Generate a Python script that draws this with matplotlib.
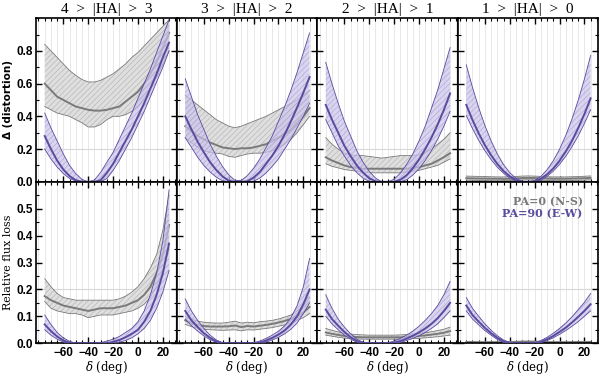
import matplotlib
matplotlib.use("Agg")
import matplotlib.pyplot as plt
import numpy as np

# declination grid (deg)
dec = [-75, -70, -65, -60, -55, -50, -45, -40, -35, -30, -25, -20, -15, -10, -5, 0, 5, 10, 15, 20, 25]

titles = ["4  >  |HA|  >  3", "3  >  |HA|  >  2", "2  >  |HA|  >  1", "1  >  |HA|  >  0"]

# ---- distortion, PA=0 (grey) ----
g1_hi = [.84, .80, .76, .72, .68, .65, .625, .61, .61, .62, .64, .66, .69, .72, .76, .79, .83, .87, .91, .95, .99]
g1_md = [.60, .56, .52, .50, .48, .46, .45, .44, .435, .435, .44, .45, .46, .49, .52, .55, .60, .66, .73, .82, .91]
g1_lo = [.46, .44, .42, .41, .40, .38, .36, .335, .335, .35, .38, .40, .40, .41, .43, .46, .51, .57, .64, .72, .80]
g2_hi = [.53, .50, .47, .44, .41, .38, .36, .34, .33, .34, .355, .37, .385, .40, .42, .44, .46, .48, .50, .53, .56]
g2_md = [.34, .31, .28, .26, .24, .225, .21, .205, .20, .205, .205, .21, .22, .23, .25, .27, .29, .32, .36, .40, .45]
g2_lo = [.27, .24, .21, .19, .18, .175, .17, .155, .15, .16, .17, .175, .175, .18, .19, .21, .23, .26, .30, .35, .40]
g3_hi = [.27, .23, .20, .175, .165, .16, .16, .155, .15, .145, .15, .155, .16, .16, .16, .165, .18, .20, .23, .26, .30]
g3_md = [.15, .13, .115, .10, .09, .085, .08, .08, .08, .08, .08, .08, .08, .08, .085, .09, .10, .11, .13, .15, .175]
g3_lo = [.11, .095, .085, .075, .07, .065, .06, .055, .055, .055, .055, .055, .055, .06, .065, .07, .08, .09, .10, .12, .14]
g4_hi = [.035, .034, .033, .032, .031, .03, .03, .031, .033, .035, .036, .035, .033, .031, .03, .03, .03, .031, .032, .034, .036]
g4_md = [.022, .021, .02, .02, .019, .019, .018, .019, .021, .023, .024, .023, .021, .02, .019, .019, .019, .02, .021, .022, .024]
g4_lo = [.01, .009, .008, .008, .007, .007, .007, .008, .009, .011, .012, .011, .009, .008, .007, .007, .007, .008, .009, .01, .012]

# ---- distortion, PA=90 (purple) ----
p1_hi = [.42, .33, .25, .17, .10, .05, .015, 0, .011, .058, .12, .18, .26, .34, .42, .51, .60, .69, .79, .89, .99]
p1_md = [.28, .20, .13, .075, .035, .01, 0, 0, 0, .01, .055, .11, .18, .25, .32, .40, .48, .57, .66, .76, .85]
p1_lo = [.20, .14, .09, .05, .02, .005, 0, 0, 0, 0, .02, .07, .13, .20, .27, .35, .43, .52, .61, .70, .80]
p2_hi = [.63, .52, .41, .32, .23, .157, .093, .043, .009, .008, .038, .083, .14, .21, .28, .37, .46, .56, .67, .79, .91]
p2_md = [.40, .32, .245, .18, .12, .072, .033, .007, 0, 0, .003, .026, .06, .11, .16, .22, .29, .37, .455, .545, .64]
p2_lo = [.27, .21, .15, .10, .06, .028, .006, 0, 0, 0, 0, .003, .023, .054, .095, .14, .20, .26, .33, .40, .48]
p3_hi = [.73, .60, .48, .37, .28, .19, .12, .064, .023, 0, 0, .016, .053, .106, .17, .25, .34, .45, .56, .69, .82]
p3_md = [.47, .38, .30, .22, .157, .10, .056, .022, .003, 0, 0, 0, .013, .04, .083, .136, .20, .27, .35, .44, .54]
p3_lo = [.38, .30, .22, .157, .10, .056, .022, .003, 0, 0, 0, 0, 0, .012, .041, .08, .13, .19, .26, .34, .43]
p4_hi = [.715, .577, .453, .344, .25, .17, .105, .056, .021, .002, 0, .008, .033, .074, .129, .199, .283, .383, .498, .628, .772]
p4_md = [.47, .378, .296, .224, .162, .109, .066, .034, .011, 0, 0, .002, .019, .046, .082, .129, .185, .25, .328, .414, .51]
p4_lo = [.405, .325, .253, .19, .135, .089, .052, .023, .003, 0, 0, 0, .01, .033, .065, .106, .156, .214, .28, .356, .44]

# ---- relative flux loss, PA=0 (grey) ----
f1_hi = [.24, .21, .185, .17, .165, .16, .16, .16, .16, .16, .16, .16, .165, .175, .19, .21, .24, .28, .33, .42, .55]
f1_md = [.175, .16, .15, .14, .135, .13, .125, .12, .125, .13, .13, .13, .135, .14, .15, .16, .18, .21, .26, .33, .44]
f1_lo = [.155, .13, .12, .115, .11, .11, .105, .095, .10, .105, .105, .105, .11, .115, .12, .13, .145, .17, .21, .27, .35]
f2_hi = [.10, .09, .082, .078, .076, .075, .075, .078, .082, .075, .078, .076, .08, .082, .085, .09, .097, .105, .12, .14, .17]
f2_md = [.085, .075, .068, .064, .062, .062, .062, .063, .066, .06, .064, .062, .065, .068, .072, .077, .083, .09, .10, .115, .135]
f2_lo = [.07, .062, .056, .052, .05, .049, .048, .049, .05, .046, .05, .049, .052, .055, .058, .063, .068, .075, .085, .095, .11]
f3_hi = [.055, .048, .042, .037, .034, .032, .031, .03, .03, .03, .03, .03, .031, .032, .034, .036, .039, .043, .047, .052, .06]
f3_md = [.04, .035, .031, .027, .025, .023, .022, .022, .022, .022, .022, .022, .022, .023, .025, .027, .029, .032, .035, .039, .045]
f3_lo = [.03, .026, .022, .019, .017, .016, .015, .015, .015, .015, .015, .015, .015, .016, .017, .018, .02, .022, .024, .027, .03]
f4_hi = [.006, .006, .005, .005, .005, .005, .005, .006, .007, .008, .008, .008, .007, .006, .005, .005, .005, .005, .006, .006, .007]
f4_md = [.003, .003, .003, .003, .003, .003, .003, .003, .004, .005, .005, .005, .004, .003, .003, .003, .003, .003, .003, .003, .004]
f4_lo = [0] * 21

# ---- relative flux loss, PA=90 (purple) ----
q1_hi = [.105, .07, .04, .02, .007, 0, 0, 0, 0, .002, .008, .015, .025, .04, .055, .08, .12, .18, .26, .38, .57]
q1_md = [.07, .045, .025, .01, .002, 0, 0, 0, 0, 0, 0, .005, .012, .022, .035, .05, .08, .12, .18, .26, .37]
q1_lo = [.05, .03, .015, .004, 0, 0, 0, 0, 0, 0, 0, 0, .004, .01, .02, .035, .055, .085, .13, .19, .27]
q2_hi = [.165, .12, .085, .055, .03, .012, .002, 0, 0, 0, 0, .002, .008, .018, .03, .045, .065, .095, .14, .21, .315]
q2_md = [.12, .085, .06, .037, .02, .007, 0, 0, 0, 0, 0, 0, .002, .01, .02, .032, .048, .07, .10, .145, .20]
q2_lo = [.09, .065, .045, .027, .013, .004, 0, 0, 0, 0, 0, 0, 0, .004, .012, .022, .035, .052, .075, .11, .15]
q3_hi = [.18, .13, .09, .06, .035, .015, .004, 0, 0, 0, .002, .008, .018, .03, .045, .063, .085, .11, .14, .18, .23]
q3_md = [.125, .09, .065, .042, .022, .008, .001, 0, 0, 0, 0, .002, .008, .017, .028, .04, .055, .072, .093, .12, .15]
q3_lo = [.10, .072, .05, .03, .015, .004, 0, 0, 0, 0, 0, 0, .003, .01, .018, .028, .04, .055, .072, .095, .12]
q4_hi = [.17, .13, .10, .072, .048, .028, .012, .003, 0, 0, 0, .002, .01, .022, .037, .055, .075, .098, .125, .152, .185]
q4_md = [.14, .105, .08, .057, .037, .02, .007, 0, 0, 0, 0, 0, .005, .015, .027, .042, .058, .077, .098, .12, .145]
q4_lo = [.12, .09, .068, .047, .03, .014, .003, 0, 0, 0, 0, 0, .002, .01, .02, .033, .047, .063, .08, .10, .12]

top_grey = [(g1_lo, g1_md, g1_hi), (g2_lo, g2_md, g2_hi), (g3_lo, g3_md, g3_hi), (g4_lo, g4_md, g4_hi)]
top_purp = [(p1_lo, p1_md, p1_hi), (p2_lo, p2_md, p2_hi), (p3_lo, p3_md, p3_hi), (p4_lo, p4_md, p4_hi)]
bot_grey = [(f1_lo, f1_md, f1_hi), (f2_lo, f2_md, f2_hi), (f3_lo, f3_md, f3_hi), (f4_lo, f4_md, f4_hi)]
bot_purp = [(q1_lo, q1_md, q1_hi), (q2_lo, q2_md, q2_hi), (q3_lo, q3_md, q3_hi), (q4_lo, q4_md, q4_hi)]

GREY_F, GREY_H, GREY_L = "#dcdcdc", "#b4b4b4", "#7a7a7a"
PURP_F, PURP_H, PURP_L = "#cdc5ea", "#a498d0", "#5b4b9e"

plt.rcParams["hatch.linewidth"] = 0.5
plt.rcParams["mathtext.fontset"] = "dejavuserif"
fig = plt.figure(figsize=(6, 3.78), dpi=100)

L, W = 0.06, 0.2342
rows = [(0.519, 0.433), (0.092, 0.427)]
sans = dict(family="Liberation Sans", weight="bold", size=8.5)


def band(ax, lo, md, hi, fc, hc, lc, z, a):
    ax.fill_between(dec, lo, hi, facecolor=fc, edgecolor=hc, hatch="//////",
                    linewidth=0, alpha=a, zorder=z)
    ax.plot(dec, lo, color=lc, lw=0.6, zorder=z + 0.1)
    ax.plot(dec, hi, color=lc, lw=0.6, zorder=z + 0.1)
    ax.plot(dec, md, color=lc, lw=1.4, zorder=z + 0.2)


for r, (bot, h) in enumerate(rows):
    for c in range(4):
        ax = fig.add_axes([L + c * W, bot, W, h])
        grey = top_grey[c] if r == 0 else bot_grey[c]
        purp = top_purp[c] if r == 0 else bot_purp[c]
        band(ax, *grey, GREY_F, GREY_H, GREY_L, 2, 0.9)
        band(ax, *purp, PURP_F, PURP_H, PURP_L, 3, 0.7)

        ax.set_xlim(-82, 31)
        ax.set_xticks([-60, -40, -20, 0, 20])
        ax.set_xticks(np.arange(-80, 31, 5), minor=True)
        for xv in np.arange(-80, 31, 5):
            ax.axvline(xv, color="#e4e4e4", lw=0.6, zorder=0)
        if r == 0:
            ax.set_ylim(0, 1.0)
            ax.set_yticks([0, 0.2, 0.4, 0.6, 0.8])
            ax.set_yticks(np.arange(0, 1.01, 0.1), minor=True)
        else:
            ax.set_ylim(0, 0.6)
            ax.set_yticks([0, 0.1, 0.2, 0.3, 0.4, 0.5])
            ax.set_yticks(np.arange(0, 0.61, 0.05), minor=True)
        ax.axhline(0.2, color="#d8d8d8", lw=0.8, zorder=0)

        ax.tick_params(which="both", direction="in", top=True, right=True)
        ax.tick_params(which="major", length=4, width=1, pad=2.5)
        ax.tick_params(which="minor", length=2, width=0.8)
        for s in ax.spines.values():
            s.set_linewidth(1.2)

        if r == 0:
            ax.set_title(titles[c], family="Liberation Serif", size=11, pad=4)
            ax.set_xticklabels([])
        else:
            ax.set_xticklabels(["\u221260", "\u221240", "\u221220", "0", "20"], **sans)
            ax.set_xlabel("$\\delta$ (deg)", family="DejaVu Serif", size=8.5, labelpad=0)
        if c == 0:
            if r == 0:
                ax.set_yticklabels(["0.0", "0.2", "0.4", "0.6", "0.8"], **sans)
                ax.set_ylabel("\u0394 (distortion)", family="DejaVu Sans", weight="bold",
                              size=7.5, labelpad=2)
            else:
                ax.set_yticklabels(["0.0", "0.1", "0.2", "0.3", "0.4", "0.5"], **sans)
                ax.set_ylabel("Relative flux loss", family="DejaVu Serif", size=8, labelpad=2)
        else:
            ax.set_yticklabels([])
        if r == 1 and c == 3:
            ax.text(0.89, 0.875, "PA=0 (N-S)", transform=ax.transAxes, ha="right", va="center",
                    color=GREY_L, family="DejaVu Serif", weight="bold", size=8)
            ax.text(0.89, 0.80, "PA=90 (E-W)", transform=ax.transAxes, ha="right", va="center",
                    color=PURP_L, family="DejaVu Serif", weight="bold", size=8)

fig.savefig("out.png", dpi=100)
